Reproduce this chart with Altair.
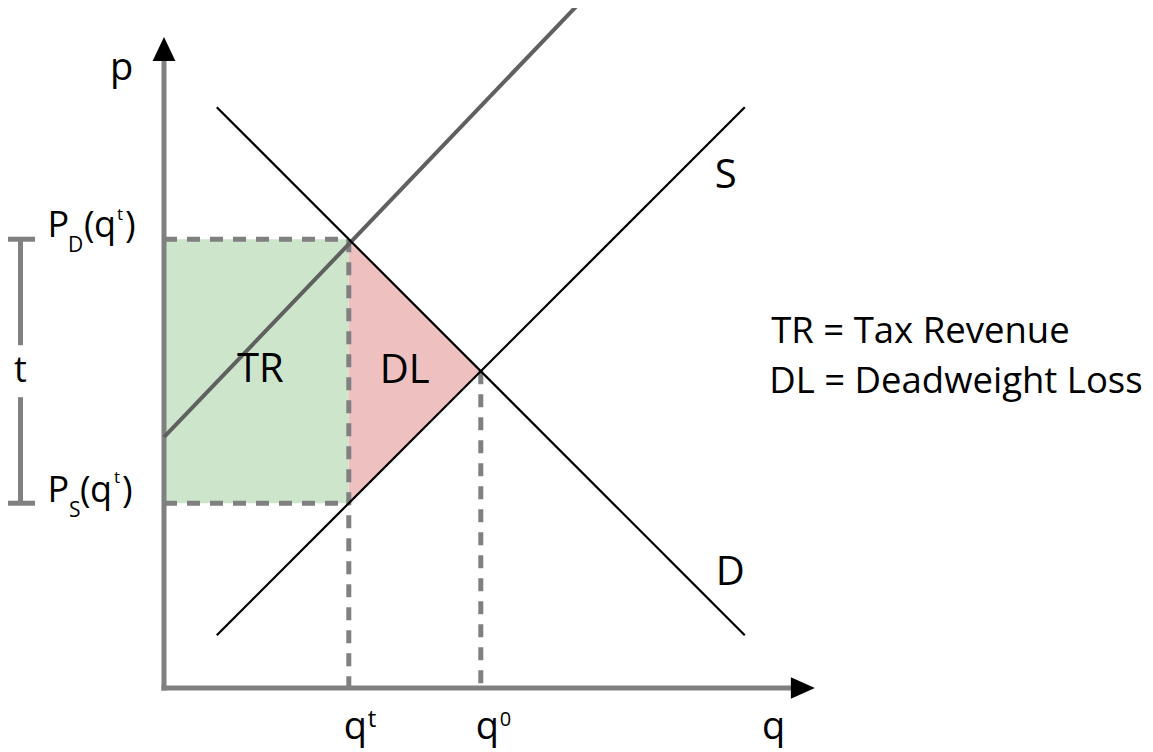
import altair as alt
import pandas as pd

# ---------------- data (q = quantity, p = price) ----------------
q_t = 3.5        # quantity traded with the tax
q_0 = 6.0        # equilibrium quantity without tax
p_S = 3.5        # price received by suppliers  P_S(q^t)
p_D = 8.5        # price paid by consumers      P_D(q^t)
p_0 = 6.0        # equilibrium price

demand_q = [1.0, 11.0]
demand_p = [11.0, 1.0]
supply_q = [1.0, 11.0]
supply_p = [1.0, 11.0]
taxed_q = [0.0, 7.8]          # supply shifted up by the tax
taxed_p = [4.75, 12.9]
axis_end = 12.1               # where the axis arrows sit

curve_labels = ["S", "D"]
axis_labels = ["p", "q"]
area_labels = ["TR", "DL"]
legend_lines = ["TR = Tax Revenue", "DL = Deadweight Loss"]
tax_label = "t"

# ---------------- layout ----------------
W, H = 1137, 744
U = 52.8                      # pixels per unit
OX, OY = 164, 688             # page position of the origin
FONT = "Open Sans"

xs = alt.Scale(domain=[(8 - OX) / U, (8 + W - OX) / U], nice=False, zero=False)
ys = alt.Scale(domain=[(OY - (8 + H)) / U, (OY - 8) / U], nice=False, zero=False)
X = alt.X("q:Q", scale=xs, axis=None)
Y = alt.Y("p:Q", scale=ys, axis=None)

layers = []

# tax revenue rectangle
rect_df = pd.DataFrame({"q": [0.0], "q2": [q_t], "p": [p_S], "p2": [p_D]})
layers.append(alt.Chart(rect_df).mark_rect(color="#cde6cb").encode(
    x=X, x2="q2:Q", y=Y, y2="p2:Q"))

# deadweight loss triangle: between supply and demand from q_t to q_0
dl_df = pd.DataFrame({"q": [q_t, q_0], "p": [p_S, p_0], "p2": [p_D, p_0]})
layers.append(alt.Chart(dl_df).mark_area(color="#eec0c0", opacity=1).encode(
    x=X, y=Y, y2="p2:Q"))

# dashed guide lines
dash_df = pd.DataFrame({
    "q": [0.0, 0.0, q_t, q_0],
    "p": [p_D, p_S, p_D, p_0],
    "q2": [q_t, q_t, q_t, q_0],
    "p2": [p_D, p_S, 0.0, 0.0],
})
layers.append(alt.Chart(dash_df).mark_rule(
    color="#808080", strokeWidth=5, strokeDash=[13, 10]).encode(
    x=X, y=Y, x2="q2:Q", y2="p2:Q"))

# axes
axes_df = pd.DataFrame({"q": [0.0, 0.0], "p": [0.0, 0.0],
                        "q2": [axis_end, 0.0], "p2": [0.0, axis_end]})
layers.append(alt.Chart(axes_df).mark_rule(
    color="#808080", strokeWidth=5, strokeCap="square").encode(
    x=X, y=Y, x2="q2:Q", y2="p2:Q"))

# supply shifted by the tax
taxed_df = pd.DataFrame({"q": taxed_q, "p": taxed_p})
layers.append(alt.Chart(taxed_df).mark_line(
    color="#606060", strokeWidth=4).encode(x=X, y=Y))

# demand and supply
ds_df = pd.DataFrame({
    "q": demand_q + supply_q,
    "p": demand_p + supply_p,
    "curve": ["D", "D", "S", "S"],
})
layers.append(alt.Chart(ds_df).mark_line(
    color="black", strokeWidth=2.2).encode(x=X, y=Y, detail="curve:N"))

# arrow heads
up_df = pd.DataFrame({"q": [0.0], "p": [axis_end]})
right_df = pd.DataFrame({"q": [axis_end], "p": [0.0]})
layers.append(alt.Chart(up_df).mark_point(
    shape="M0,-1L0.95,1L-0.95,1Z", size=576, filled=True,
    color="black", opacity=1, strokeWidth=0).encode(x=X, y=Y))
layers.append(alt.Chart(right_df).mark_point(
    shape="M1,0L-1,0.9L-1,-0.9Z", size=576, filled=True,
    color="black", opacity=1, strokeWidth=0).encode(x=X, y=Y))

# bracket for the tax t
bq = (20.5 - OX) / U
bw = 14.5 / U
gap = 26 / U
mid = (p_S + p_D) / 2
br_df = pd.DataFrame({
    "q": [bq, bq, bq - bw, bq - bw],
    "p": [p_S, mid + gap, p_D, p_S],
    "q2": [bq, bq, bq + bw, bq + bw],
    "p2": [mid - gap, p_D, p_D, p_S],
})
layers.append(alt.Chart(br_df).mark_rule(
    color="#808080", strokeWidth=5).encode(x=X, y=Y, x2="q2:Q", y2="p2:Q"))


def label(q, p, txt, size, dx=0, dy=0, align="left"):
    df = pd.DataFrame({"q": [q], "p": [p], "t": [txt]})
    return alt.Chart(df).mark_text(
        font=FONT, fontSize=size, dx=dx, dy=dy, align=align,
        baseline="alphabetic", color="black").encode(x=X, y=Y, text="t:N")


# axis titles
layers.append(label(0.0, axis_end, axis_labels[0], 38, dx=-54, dy=31))
layers.append(label(axis_end, 0.0, axis_labels[1], 38, dx=-41, dy=51))

# q^t and q^0 under the axis
layers.append(label(q_t, 0.0, "q", 38, dx=-5, dy=51))
layers.append(label(q_t, 0.0, "t", 24, dx=19, dy=39))
layers.append(label(q_0, 0.0, "q", 38, dx=-5, dy=51))
layers.append(label(q_0, 0.0, "0", 20, dx=19, dy=38))

# curve names
layers.append(label(supply_q[1], supply_p[1], curve_labels[0], 40, dx=-30, dy=81))
layers.append(label(demand_q[1], demand_p[1], curve_labels[1], 40, dx=-29, dy=-50))

# area names
layers.append(label(q_t / 2, mid, area_labels[0], 40, dx=4, dy=11, align="center"))
layers.append(label((2 * q_t + q_0) / 3, mid, area_labels[1], 40, dx=12, dy=12,
                    align="center"))

# legend
layers.append(label(11.5, p_0, legend_lines[0], 36.5, dx=0, dy=-28))
layers.append(label(11.5, p_0, legend_lines[1], 36.5, dx=-2, dy=22))

# tax bracket label
layers.append(label(bq, mid, tax_label, 36, dx=0, dy=11, align="center"))

# P_D(q^t)
layers += [
    label(0.0, p_D, "P", 36, dx=-116.5, dy=-2),
    label(0.0, p_D, "D", 21, dx=-96, dy=13),
    label(0.0, p_D, "(", 36, dx=-80, dy=-2),
    label(0.0, p_D, "q", 36, dx=-70, dy=-2),
    label(0.0, p_D, "t", 17, dx=-47, dy=-19),
    label(0.0, p_D, ")", 36, dx=-39, dy=-2),
]
# P_S(q^t)
layers += [
    label(0.0, p_S, "P", 36, dx=-116.5, dy=-1),
    label(0.0, p_S, "S", 21, dx=-95, dy=14),
    label(0.0, p_S, "(", 36, dx=-84, dy=-1),
    label(0.0, p_S, "q", 36, dx=-74, dy=-1),
    label(0.0, p_S, "t", 17, dx=-50, dy=-20),
    label(0.0, p_S, ")", 36, dx=-42, dy=-1),
]

chart = alt.layer(*layers).properties(
    width=W, height=H, padding=0,
    autosize=alt.AutoSizeParams(type="none"),
    background="white",
).configure_view(strokeWidth=0)

chart.save("out.html", embed_options={"renderer": "svg", "actions": False})
